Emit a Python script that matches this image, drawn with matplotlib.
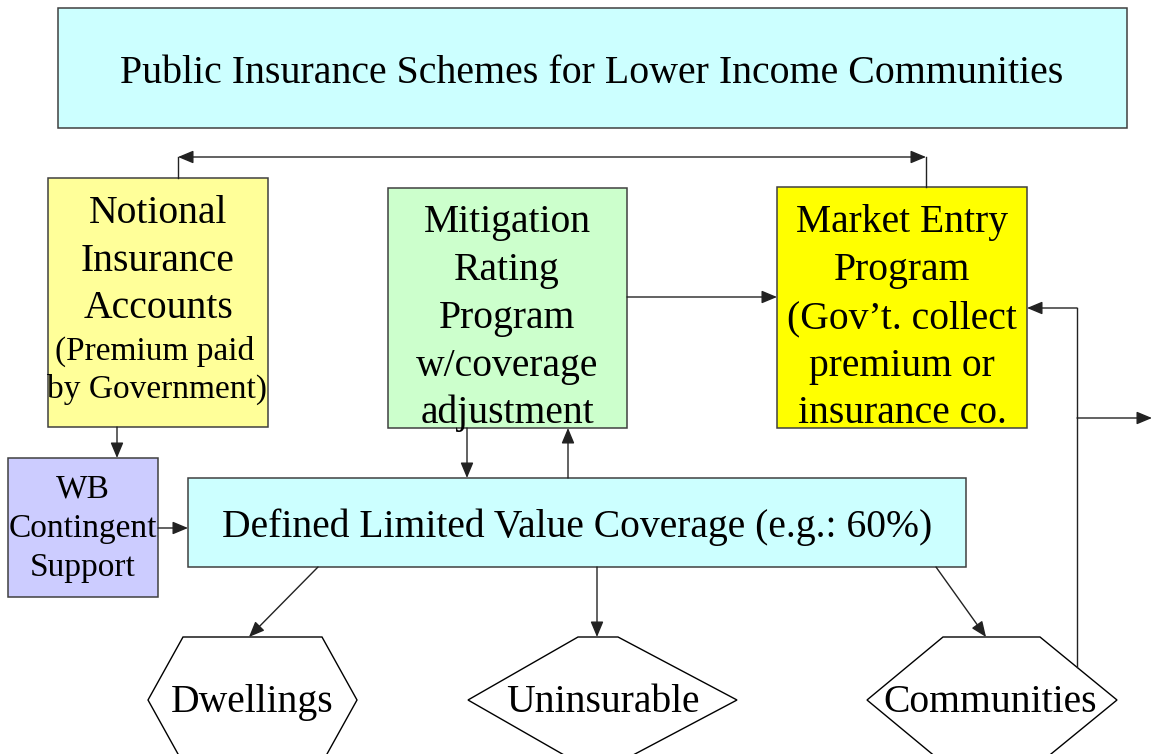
import matplotlib.pyplot as plt
from matplotlib.patches import Rectangle, Polygon

# boxes: label lines, (x, y, w, h) in pixels, fill colour
box_names = ['title', 'notional', 'mitigation', 'market', 'wb', 'defined']
box_xywh = [(58, 8, 1069, 120), (48, 178, 220, 249), (388, 188, 239, 240),
            (777, 187, 250, 241), (8, 458, 150, 139), (188, 478, 778, 89)]
box_fill = ['#ccffff', '#ffff99', '#ccffcc', '#ffff00', '#ccccff', '#ccffff']

# text lines: (text, x centre, baseline y, size)
big, small = 28.5, 24
text_lines = [
    ('Public Insurance Schemes for Lower Income Communities', 592, 83, 28.7),
    ('Notional', 158, 223, big), ('Insurance', 158, 271, big), ('Accounts', 158, 318, big),
    ('(Premium paid', 155, 360, small), ('by Government)', 157, 398, small),
    ('Mitigation', 507, 232, big), ('Rating', 507, 280, big), ('Program', 507, 328, big),
    ('w/coverage', 507, 376, big), ('adjustment', 507, 423, big),
    ('Market Entry', 902, 232, big), ('Program', 902, 280, big),
    ('(Gov\u2019t. collect', 902, 328, big), ('premium or', 902, 376, big),
    ('insurance co.', 902, 423, big),
    ('WB', 83, 497, small), ('Contingent', 83, 537, small), ('Support', 83, 576, small),
    ('Defined Limited Value Coverage (e.g.: 60%)', 577, 537, big),
    ('Dwellings', 252, 712, big), ('Uninsurable', 603, 712, big), ('Communities', 990, 712, big),
]

# hexagons: (top-left x, top-right x, left point x, right point x)
hex_shapes = [(183, 322, 148, 357), (578, 618, 468, 737), (943, 1040, 867, 1117)]
hex_top, hex_mid, hex_bot = 637, 700, 763

# arrows (start, end)
arrows = [
    ((627, 297), (777, 297)),
    ((117, 427), (117, 458)),
    ((158, 528), (188, 528)),
    ((467, 428), (467, 478)),
    ((568, 478), (568, 428)),
    ((318, 567), (249, 637)),
    ((597, 567), (597, 637)),
    ((936, 567), (986, 637)),
    ((1077, 308), (1027, 308)),
    ((1077, 418), (1152, 418)),
]
plain_lines = [
    ((178, 178), (178, 157)),
    ((926, 187), (926, 157)),
    ((1077, 667), (1077, 308)),
]

fig = plt.figure(figsize=(11.52, 7.54), dpi=100)
ax = fig.add_axes([0, 0, 1, 1])
ax.set_xlim(0, 1152)
ax.set_ylim(754, 0)
ax.axis('off')

for (x, y, w, h), c in zip(box_xywh, box_fill):
    ax.add_patch(Rectangle((x, y), w, h, facecolor=c, edgecolor='#404040', lw=1.1))

for tl, tr, lp, rp in hex_shapes:
    pts = [(tl, hex_top), (tr, hex_top), (rp, hex_mid), (tr, hex_bot), (tl, hex_bot), (lp, hex_mid)]
    ax.add_patch(Polygon(pts, closed=True, facecolor='white', edgecolor='black', lw=1.0))

for t, x, y, s in text_lines:
    ax.text(x, y, t, ha='center', va='baseline', fontsize=s, family='Liberation Serif')

for a, b in plain_lines:
    ax.plot([a[0], b[0]], [a[1], b[1]], color='#222222', lw=1.0)

style = dict(arrowstyle='-|>,head_length=0.67,head_width=0.28', color='#222222',
             lw=1.0, shrinkA=0, shrinkB=0, mutation_scale=14)
for a, b in arrows:
    ax.annotate('', xy=b, xytext=a, arrowprops=style)

both = dict(style, arrowstyle='<|-|>,head_length=0.67,head_width=0.28')
ax.annotate('', xy=(926, 157), xytext=(178, 157), arrowprops=both)

fig.savefig('out.png', dpi=100)
